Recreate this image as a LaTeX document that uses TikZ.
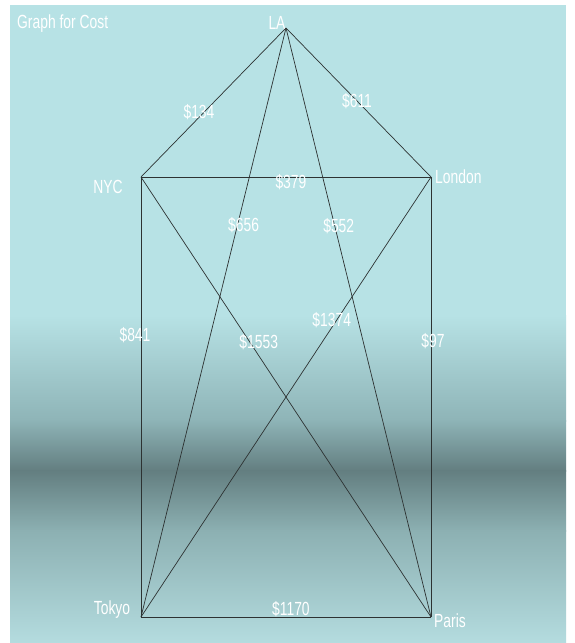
\documentclass[tikz,border=0pt]{standalone}
\usepackage{fontspec}
\usepackage{xcolor}
\usepackage{tikz}
\usetikzlibrary{positioning}
\newfontfamily\graphfont[FakeStretch=0.73]{Liberation Sans}
\definecolor{bglight}{RGB}{183,226,229}
\definecolor{bgmid}{RGB}{142,180,183}
\definecolor{bgdark}{RGB}{99,126,128}
\definecolor{bglow}{RGB}{140,176,178}
\definecolor{bgbottom}{RGB}{180,220,223}
\definecolor{edgegray}{RGB}{45,50,50}

\begin{document}
\begin{tikzpicture}[
    x=1pt, y=-1pt,
    city/.style={text=white, inner sep=0pt, anchor=base, font=\graphfont\fontsize{19}{21}\selectfont},
    cost/.style={text=white, inner sep=0pt, font=\graphfont\fontsize{19}{21}\selectfont},
    link/.style={draw=edgegray, line width=0.7pt}
]
    \useasboundingbox (0,0) rectangle (574,643);
    \fill[white] (0,0) rectangle (574,643);

    % Background panel
    \fill[bglight] (10,5) rectangle (566,316);
    \shade[top color=bglight, bottom color=bgmid] (10,315) rectangle (566,421);
    \shade[top color=bgmid, bottom color=bgdark] (10,420) rectangle (566,471);
    \shade[top color=bgdark, bottom color=bglow] (10,470) rectangle (566,531);
    \shade[top color=bglow, bottom color=bgbottom] (10,530) rectangle (566,643);

    % Title
    \node[city, anchor=base west] (title) at (17,28) {Graph for Cost};

    % Cities
    \coordinate (LA) at (286,28);
    \coordinate (NYC) at (141,177);
    \coordinate (London) at (431,177);
    \coordinate (Tokyo) at (141,617);
    \coordinate (Paris) at (431,617);

    \node[city] (LAname) at (277,29) {LA};
    \node[city] (NYCname) at (108,193) {NYC};
    \node[city, anchor=base west] (Londonname) at (435,183) {London};
    \node[city] (Tokyoname) at (112,614) {Tokyo};
    \node[city, anchor=base west] (Parisname) at (434,627) {Paris};

    % Connectors
    \draw[link] (LA) -- node[cost, pos=0.6, yshift=5pt] (c134) {\$134} (NYC);
    \draw[link] (LA) -- node[cost, pos=0.49] (c611) {\$611} (London);
    \draw[link] (NYC) -- node[cost, pos=0.517, yshift=-5pt] (c379) {\$379} (London);
    \draw[link] (LA) -- node[cost, pos=0.334, xshift=6pt] (c656) {\$656} (Tokyo);
    \draw[link] (LA) -- node[cost, pos=0.336, xshift=4pt] (c552) {\$552} (Paris);
    \draw[link] (NYC) -- node[cost, pos=0.36, xshift=-6pt] (c841) {\$841} (Tokyo);
    \draw[link] (NYC) -- node[cost, pos=0.375, xshift=9pt] (c1553) {\$1553} (Paris);
    \draw[link] (London) -- node[cost, pos=0.325, xshift=-5pt] (c1374) {\$1374} (Tokyo);
    \draw[link] (London) -- node[cost, pos=0.373, xshift=2pt] (c97) {\$97} (Paris);
    \draw[link] (Tokyo) -- node[cost, pos=0.517, yshift=8pt] (c1170) {\$1170} (Paris);
\end{tikzpicture}
\end{document}
